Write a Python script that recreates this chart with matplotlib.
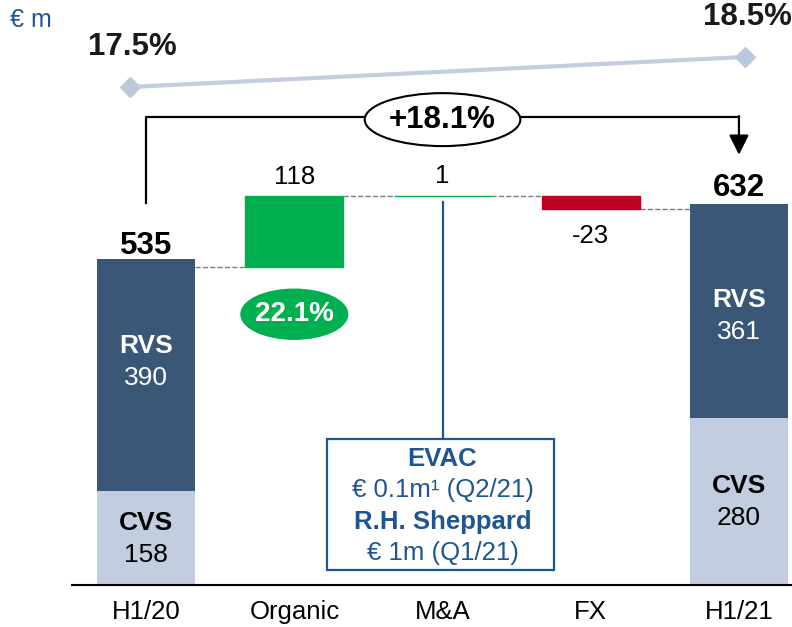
import matplotlib.pyplot as plt
import numpy as np
from matplotlib.patches import Ellipse, Rectangle

plt.rcParams['font.family'] = ['Liberation Sans', 'DejaVu Sans']

# Daten
categories = ['H1/20', 'Organic', 'M&A', 'FX', 'H1/21']
cvs = [158, 280]
rvs = [390, 361]
totals = [535, 632]
steps = [118, 1, -23]
margins = [17.5, 18.5]
growth_label = '+18.1%'
organic_label = '22.1%'
box_lines = [('EVAC', 'bold'), ('€ 0.1m¹ (Q2/21)', 'normal'),
             ('R.H. Sheppard', 'bold'), ('€ 1m (Q1/21)', 'normal')]

DARK = '#3A5777'
LIGHT = '#C2CDE0'
GREEN = '#00B050'
RED = '#C00020'
NAVY = '#1F5591'

BIG = 22.5
REG = 18.5

fig = plt.figure(figsize=(7.92, 6.27), dpi=100)
ax = fig.add_axes([72 / 792, 42 / 627, 720 / 792, 585 / 627])
ax.set_xlim(-0.5, 4.358)
ax.set_ylim(0, 983)

x = np.arange(len(categories))
w = 0.66

# Summenbalken (CVS unten, RVS oben)
ends = [x[0], x[-1]]
ax.bar(ends, cvs, w, color=LIGHT, zorder=2)
ax.bar(ends, rvs, w, bottom=cvs, color=DARK, zorder=2)

# Brücke
level = totals[0]
bottoms, cum = [], [level]
for s in steps:
    bottoms.append(level if s >= 0 else level + s)
    level += s
    cum.append(level)
step_colors = [GREEN if s >= 0 else RED for s in steps]
ax.bar(x[1:4], [abs(s) for s in steps], w, bottom=bottoms,
       color=step_colors, edgecolor=step_colors, linewidth=1, zorder=2)

# Verbindungslinien
for i in range(len(cum)):
    ax.plot([x[i] + w / 2, x[i + 1] - w / 2], [cum[i], cum[i]],
            ls='--', color='#7F7F7F', lw=1, zorder=1)

# Beschriftungen Summen
for xp, t in zip(ends, totals):
    ax.annotate(str(t), (xp, t), xytext=(0, 9), textcoords='offset points',
                ha='center', va='baseline', fontsize=BIG, fontweight='bold')

# Beschriftungen Schritte
for xp, s, b in zip(x[1:4], steps, bottoms):
    if s >= 0:
        ax.annotate(str(s), (xp, b + s), xytext=(0, 9), textcoords='offset points',
                    ha='center', va='baseline', fontsize=REG)
    else:
        ax.annotate(str(s), (xp, b), xytext=(0, -24), textcoords='offset points',
                    ha='center', va='baseline', fontsize=REG)

# Segmentbeschriftungen
lift = {0: 10, 1: -3}
for k, (xp, c, r) in enumerate(zip(ends, cvs, rvs)):
    for name, val, bot, col, dy in [('CVS', c, 0, 'black', 0), ('RVS', r, c, 'white', lift[k])]:
        mid = bot + val / 2
        ax.annotate(name, (xp, mid), xytext=(0, 11 + dy), textcoords='offset points',
                    ha='center', va='center', fontsize=19, fontweight='bold', color=col)
        ax.annotate(str(val), (xp, mid), xytext=(0, -12 + dy), textcoords='offset points',
                    ha='center', va='center', fontsize=19, color=col)

# organisches Wachstum
ax.add_patch(Ellipse((x[1], bottoms[0] - 80), 0.72, 84, color=GREEN, zorder=3))
ax.text(x[1], bottoms[0] - 80, organic_label, ha='center', va='center',
        fontsize=20, fontweight='bold', color='white', zorder=4)

# Klammer mit Pfeil
bracket_y = 787
ax.plot([x[0], x[0], x[-1]], [totals[0] + 107, bracket_y, bracket_y],
        color='black', lw=1.6, zorder=3)
ax.annotate('', xy=(x[-1], totals[-1] + 91), xytext=(x[-1], bracket_y + 1),
            arrowprops=dict(arrowstyle='-|>,head_length=0.6,head_width=0.3',
                            mutation_scale=20, color='black', lw=1.6,
                            shrinkA=0, shrinkB=0), zorder=3)
ax.add_patch(Ellipse((x[2], bracket_y - 5), 1.05, 89, facecolor='white',
                     edgecolor='black', lw=1.5, zorder=4))
ax.text(x[2], bracket_y - 5, growth_label, ha='center', va='center',
        fontsize=BIG, fontweight='bold', zorder=5)

# M&A Box
ax.plot([x[2], x[2]], [cum[2] - 10, 245], color=NAVY, lw=1.6, zorder=3)
ax.add_patch(Rectangle((x[2] - 0.78, 25), 1.53, 220, facecolor='white',
                       edgecolor=NAVY, lw=1.6, zorder=3))
for k, (txt, wt) in enumerate(box_lines):
    ax.text(x[2], 212 - k * 53, txt, ha='center', va='center',
            fontsize=REG, fontweight=wt, color=NAVY, zorder=4)

# Achsen
ax.set_xticks(x, categories, fontsize=REG)
ax.tick_params(axis='x', length=0, pad=11)
ax.set_yticks([])
for sp in ['top', 'left', 'right']:
    ax.spines[sp].set_visible(False)
ax.spines['bottom'].set_linewidth(1.5)

# EBIT-Marge
ax2 = ax.twinx()
ax2.set_ylim(0.9, 20.4)
ax2.axis('off')
mx = [x[0] - 0.11, x[-1] + 0.04]
ax2.plot(mx, margins, color=LIGHT, lw=3, marker='D', ms=10,
         markerfacecolor='#BCC8DC', markeredgecolor='#BCC8DC')
for xp, m in zip(mx, margins):
    ax2.annotate(f'{m}%', (xp, m), xytext=(2, 29), textcoords='offset points',
                 ha='center', va='center', fontsize=BIG, fontweight='bold', color='#1A1A1A')

fig.text(10 / 792, 1 - 20 / 627, '€ m', fontsize=18, color=NAVY, va='center')

fig.savefig('out.png', dpi=100)
